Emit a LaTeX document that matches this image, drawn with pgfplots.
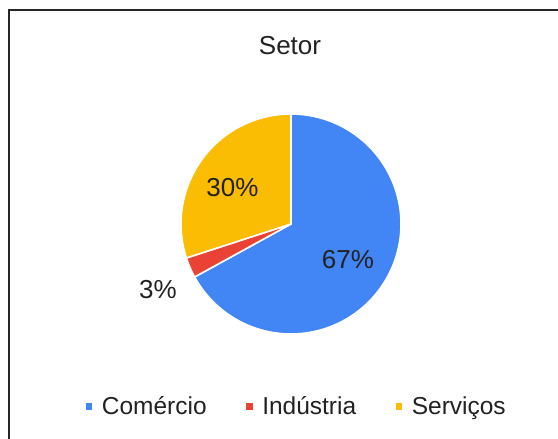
\documentclass[border=0pt]{standalone}
\usepackage{pgfplots}
\pgfplotsset{compat=1.18}
\usepackage{fontspec}
\setmainfont{Liberation Sans}
\definecolor{cblue}{HTML}{4285F4}
\definecolor{cred}{HTML}{EA4335}
\definecolor{cyellow}{HTML}{FBBC04}
\definecolor{ctext}{HTML}{222222}
% values (percent)
\def\vC{67}
\def\vI{3}
\def\vS{30}
\pgfmathsetmacro\aA{90}
\pgfmathsetmacro\aB{\aA-3.6*\vC}
\pgfmathsetmacro\aC{\aB-3.6*\vI}
\pgfmathsetmacro\aD{\aC-3.6*\vS}
\def\cx{291}
\def\cy{215}
\def\R{110}
\begin{document}
\begin{tikzpicture}
\begin{axis}[
  at={(0,0)}, anchor=south west,
  width=558bp, height=439bp, scale only axis,
  xmin=0, xmax=558, ymin=0, ymax=439,
  hide axis, clip=false,
  legend columns=3,
  legend image code/.code={\fill (0bp,-4bp) rectangle (8bp,4bp);},
  legend style={at={(axis cs:296,32.5)}, anchor=center, draw=none, fill=none,
    font=\fontsize{24.5bp}{28bp}\selectfont, text=ctext,
    inner sep=0pt, outer sep=0pt,
    /tikz/every odd column/.append style={column sep=6bp},
    /tikz/every even column/.append style={column sep=36bp}},
]
\addplot[fill=cblue, draw=white, line width=1.6bp, domain=\aA:\aB, samples=160, variable=\t]
  ({\cx+\R*cos(\t)}, {\cy+\R*sin(\t)}) -- (axis cs:\cx,\cy) -- cycle;
\addlegendentry{Comércio}
\addplot[fill=cred, draw=white, line width=1.6bp, domain=\aB:\aC, samples=20, variable=\t]
  ({\cx+\R*cos(\t)}, {\cy+\R*sin(\t)}) -- (axis cs:\cx,\cy) -- cycle;
\addlegendentry{Indústria}
\addplot[fill=cyellow, draw=white, line width=1.6bp, domain=\aC:\aD, samples=80, variable=\t]
  ({\cx+\R*cos(\t)}, {\cy+\R*sin(\t)}) -- (axis cs:\cx,\cy) -- cycle;
\addlegendentry{Serviços}
\node[anchor=base, text=ctext, font=\fontsize{26bp}{30bp}\selectfont] at (axis cs:348,170) {67\%};
\node[anchor=base, text=ctext, font=\fontsize{26bp}{30bp}\selectfont] at (axis cs:232.5,242) {30\%};
\node[anchor=base, text=ctext, font=\fontsize{26bp}{30bp}\selectfont] at (axis cs:158,140) {3\%};
\node[anchor=base, text=ctext, font=\fontsize{26bp}{30bp}\selectfont] at (axis cs:290,384.5) {Setor};
\draw[line width=2bp, color=black!85] (axis cs:9,-5) -- (axis cs:9,429) -- (axis cs:565,429);
\end{axis}
\pgfresetboundingbox
\path (0,0) rectangle (558bp,439bp);
\end{tikzpicture}
\end{document}
